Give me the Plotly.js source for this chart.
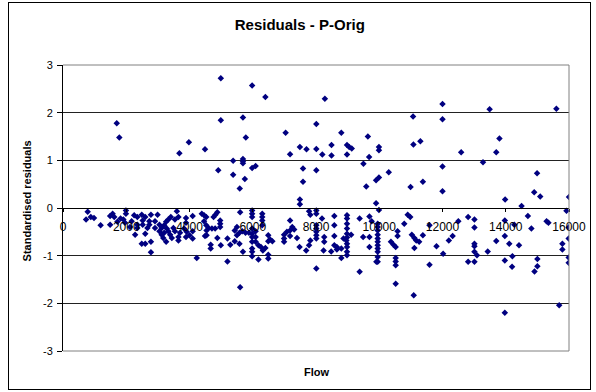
<!DOCTYPE html>
<html>
<head>
<meta charset="utf-8">
<script src="https://cdn.plot.ly/plotly-3.0.1.min.js"></script>
<style>
  html, body { margin: 0; padding: 0; background: #fff; }
  #wrap { position: relative; width: 596px; height: 392px; }
  #chart { position: absolute; left: 0; top: 0; width: 596px; height: 392px; }
  #frame { position: absolute; left: 8px; top: 2px; width: 583px; height: 388px; border: 1px solid #000; box-sizing: border-box; pointer-events: none; }
</style>
</head>
<body>
<div id="wrap"><div id="chart"></div><div id="frame"></div></div>
<script>
// Flow values (x) and standardised residuals (y)
const flow = [
  1700,1780,3680,3980,4490,4990,5980,6400,8280,4990,5690,5780,7040,8010,8800,9640,
  7180,7490,7700,8010,8200,8490,8490,8980,9050,9130,8980,9680,5380,5690,5690,5690,
  5980,6090,4910,5380,5750,5590,7590,7590,8010,7490,7490,9500,9590,12000,11070,12000,
  13490,15600,9990,9990,11080,11300,12590,13800,13700,13280,12000,9900,9990,10300,
  10990,11380,12000,9900,9990,13980,14500,14990,14900,15090,16000,
  15920,12810,13010,12500,13010,13970,14270,14700,14810,15290,15350,15990,12320,13700,
  13970,14110,14420,13010,13010,13430,13010,13090,15790,15790,15990,12810,13010,13970,
  14210,14200,15000,15000,14910,15990,15990,15690,13970,
  8190,8580,8580,8980,8980,8980,8980,8980,8980,8980,8980,8980,8980,9380,9690,9760,
  9950,9950,9950,9950,9950,9950,9950,9950,9950,9950,9950,9910,9690,9490,9690,8580,
  8260,8260,8240,8480,8580,8660,8660,8800,8800,8870,8960,9110,9380,10370,10450,10520,
  10520,10520,10520,10520,10580,10580,10790,10900,10980,11030,11110,11170,11260,11110,
  11090,11380,11590,11590,11810,12020,12200,
  4100,4100,4100,4230,4390,4460,4530,4490,4600,4710,4810,4760,4820,4880,4970,4970,
  4970,4670,4670,4880,4990,5200,5200,5290,5600,5430,5500,5500,5430,5580,5670,5770,
  5880,5580,5690,5600,5980,5980,5980,5980,5980,5980,5980,5980,5980,5980,6090,6090,
  6090,6180,6180,6300,6300,6300,6300,6260,6320,6400,6490,6550,6620,6490,6490,6490,
  6990,6990,6990,7080,7180,7180,7250,7310,7180,7400,7480,7690,7780,7780,7820,7820,
  8010,8010,8010,8010,8010,8010,8010,8010,4460,4530,4540,4540,
  780,730,880,980,1190,1490,1570,1620,1490,1720,1820,1910,1990,1990,1960,2120,
  2170,2250,2350,2350,2350,2490,2520,2600,2520,2280,2490,2600,2600,2670,2780,2780,
  2730,2780,2990,2730,2910,2910,3050,3120,3200,3260,3330,3410,3540,3600,3650,3050,
  3120,3170,3260,3200,3280,3330,3390,3440,3490,3540,3650,3650,3890,3890,3830,3910,
  4000,3890,3700
];
const residual = [
  1.78,1.48,1.15,1.38,1.23,2.72,2.57,2.33,2.29,1.84,1.90,1.48,1.58,1.76,1.58,1.50,
  1.13,1.28,1.23,1.24,1.12,1.32,1.10,1.32,1.28,1.25,1.12,1.07,0.99,1.03,0.98,0.94,
  0.84,0.88,0.79,0.70,0.61,0.41,0.83,0.55,0.79,0.18,0.08,0.93,0.45,2.18,1.92,1.86,
  2.07,2.08,1.28,1.21,1.33,1.40,1.17,1.46,1.17,0.96,0.87,0.58,0.64,0.75,
  0.44,0.55,0.35,0.10,-0.04,0.18,0.04,0.73,0.33,0.24,0.23,
  -0.06,-0.19,-0.24,-0.28,-0.41,-0.26,-0.35,-0.17,-0.43,-0.28,-0.31,-0.41,-0.59,-0.69,
  -0.59,-0.75,-0.78,-0.75,-0.80,-0.91,-0.92,-0.99,-0.75,-0.87,-0.64,-1.13,-1.13,-1.10,
  -1.01,-1.23,-1.07,-1.22,-1.33,-1.04,-1.15,-2.04,-2.20,
  -0.22,-0.17,-0.36,-0.15,-0.22,-0.33,-0.43,-0.54,-0.62,-0.75,-0.82,-0.92,-0.99,-0.22,-0.18,-0.28,
  -0.33,-0.40,-0.47,-0.56,-0.64,-0.71,-0.78,-0.85,-0.92,-1.03,-1.13,-1.13,-0.61,-0.61,-0.82,-0.59,
  -0.61,-0.71,-0.89,-0.91,-0.78,-0.82,-0.87,-0.85,-1.05,-0.64,-0.68,-0.56,-1.34,-0.71,-0.77,-0.82,
  -1.05,-1.12,-1.20,-1.59,-0.49,-0.59,-0.33,-0.14,-0.19,-0.56,-0.63,-0.68,-0.71,-0.84,
  -1.83,-0.57,-0.36,-1.19,-0.80,-0.96,-0.68,
  -0.17,-0.49,-0.64,-1.05,-0.12,-0.15,-0.19,-0.59,-0.42,-0.43,-0.43,-0.19,-0.14,-0.09,-0.26,-0.33,
  -0.40,-0.77,-0.85,-0.63,-0.78,-0.64,-1.12,-0.77,-0.09,-0.47,-0.40,-0.57,-0.70,-0.52,-0.49,-0.52,
  -0.52,-0.75,-0.92,-1.66,-0.05,-0.12,-0.19,-0.43,-0.54,-0.61,-0.71,-0.85,-0.92,-1.01,-0.49,-0.61,
  -0.71,-0.78,-1.08,-0.12,-0.19,-0.26,-0.36,-0.82,-0.89,-0.84,-0.57,-0.66,-0.70,-0.70,-0.98,-1.06,
  -0.56,-0.64,-0.71,-0.50,-0.47,-0.26,-0.40,-0.45,-0.59,-0.63,-0.82,-0.89,-0.78,-0.07,-0.14,-0.68,
  -0.05,-0.12,-0.36,-0.43,-0.50,-0.57,-0.64,-1.27,-0.28,-0.36,-0.47,-0.57,
  -0.08,-0.24,-0.19,-0.21,-0.36,-0.17,-0.12,-0.19,-0.35,-0.29,-0.22,-0.24,-0.05,-0.12,-0.31,-0.40,
  -0.28,-0.15,-0.19,-0.35,-0.42,-0.14,-0.26,-0.19,-0.35,-0.56,-0.75,-0.75,-0.54,-0.42,-0.71,-0.93,
  -0.35,-0.14,-0.14,-0.28,-0.28,-0.42,-0.35,-0.42,-0.36,-0.29,-0.24,-0.19,-0.24,-0.07,-0.19,-0.49,
  -0.56,-0.63,-0.71,-0.52,-0.43,-0.49,-0.56,-0.63,-0.42,-0.49,-0.61,-0.68,-0.21,-0.31,-0.43,-0.50,
  -0.57,-0.61,-0.52
];
const xTickVals = [0,2000,4000,6000,8000,10000,12000,14000,16000];
const xTickText = ['0','2000','4000','6000','8000','10000','12000','14000','16000'];
const yTickVals = [-3,-2,-1,0,1,2,3];
const yTickText = ['-3','-2','-1','0','1','2','3'];

const font = 'Liberation Sans, Arial, sans-serif';

const trace = {
  type: 'scatter', mode: 'markers', x: flow, y: residual,
  marker: { symbol: 'diamond', size: 5, color: '#000080', line: { width: 0 } },
  hoverinfo: 'skip', showlegend: false
};

const layout = {
  width: 596, height: 392,
  margin: { l: 63, r: 27, t: 65, b: 41, pad: 0 },
  paper_bgcolor: '#ffffff', plot_bgcolor: '#ffffff',
  font: { family: font, color: '#000', size: 11 },
  title: { text: '<b>Residuals - P-Orig</b>', font: { family: font, size: 15, color: '#000' },
           xref: 'container', x: 0.503, xanchor: 'center', yref: 'container', y: 0.938, yanchor: 'middle' },
  xaxis: {
    range: [0, 16000], tickvals: xTickVals, ticktext: xTickText,
    anchor: 'free', position: 0.5,
    showgrid: false, zeroline: false, showline: true, linecolor: '#000', linewidth: 1,
    ticks: 'outside', ticklen: 3, tickcolor: '#000', ticklabelstandoff: 5,
    tickfont: { family: font, size: 12, color: '#000' }
  },
  yaxis: {
    range: [-3, 3], tickvals: yTickVals, ticktext: yTickText,
    showgrid: true, gridcolor: '#222222', gridwidth: 1, zeroline: false,
    showline: true, linecolor: '#000', linewidth: 1,
    ticks: 'outside', ticklen: 5, tickcolor: '#000', ticklabelstandoff: 2,
    tickfont: { family: font, size: 11, color: '#000' }
  },
  shapes: [
    { type: 'line', xref: 'paper', yref: 'paper', x0: 0, x1: 1, y0: 1, y1: 1, line: { color: '#808080', width: 1 } },
    { type: 'line', xref: 'paper', yref: 'paper', x0: 1, x1: 1, y0: 0, y1: 1, line: { color: '#808080', width: 1 } },
    { type: 'line', xref: 'paper', yref: 'paper', x0: 0, x1: 1, y0: 0, y1: 0, line: { color: '#808080', width: 1 } }
  ],
  annotations: [
    { text: '<b>Standardised residuals</b>', xref: 'paper', yref: 'paper', x: -0.072, y: 0.525,
      xanchor: 'center', yanchor: 'middle', textangle: -90, showarrow: false,
      font: { family: font, size: 11, color: '#000' } },
    { text: '<b>Flow</b>', xref: 'paper', yref: 'paper', x: 0.5, y: -0.072,
      xanchor: 'center', yanchor: 'middle', showarrow: false,
      font: { family: font, size: 11, color: '#000' } }
  ]
};

Plotly.newPlot('chart', [trace], layout, { staticPlot: true, displayModeBar: false });
</script>
</body>
</html>
